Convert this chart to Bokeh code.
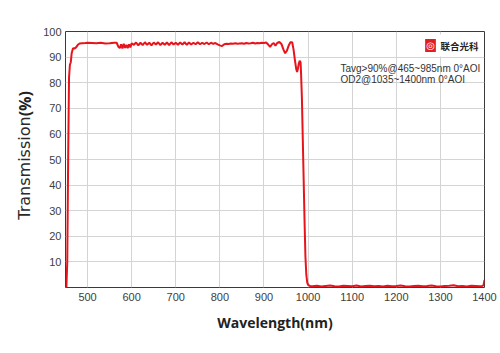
import math
from bokeh.plotting import figure
from bokeh.layouts import row
from bokeh.models import FixedTicker, Label, Range1d
from bokeh.core.properties import value
from bokeh.embed import file_html
from bokeh.resources import INLINE

# ---- data ----
wavelength = [
    450, 452, 454, 456, 458, 460, 462, 464, 467, 470, 474, 478, 482, 488, 495,
    500, 510, 520, 530, 540, 550, 560, 566, 570, 573, 576, 579, 582, 585, 588,
    591, 594, 597, 600, 605, 610, 615, 620, 625, 630, 635, 640, 645, 650, 655,
    660, 665, 670, 675, 680, 685, 690, 695, 700, 705, 710, 715, 720, 725, 730,
    735, 740, 745, 750, 755, 760, 765, 770, 775, 780, 785, 790, 795, 800, 805,
    810, 815, 820, 825, 830, 835, 840, 845, 850, 855, 860, 865, 870, 875, 880,
    885, 890, 895, 900, 905, 910, 914, 918, 922, 926, 930, 935, 940, 944, 948,
    952, 956, 960, 964, 967, 970, 973, 975, 977, 979, 981, 983, 984, 986, 988,
    990, 992, 994, 996, 998, 1000, 1005, 1010, 1020, 1030, 1040, 1050, 1060,
    1070, 1080, 1090, 1100, 1110, 1120, 1130, 1140, 1150, 1160, 1170, 1180,
    1190, 1200, 1210, 1220, 1230, 1240, 1250, 1260, 1270, 1280, 1290, 1300,
    1310, 1320, 1330, 1340, 1350, 1360, 1370, 1380, 1390, 1395, 1398, 1400,
]
transmission = [
    0.0, 0.0, 10.0, 50.0, 82.0, 87.0, 88.0, 91.5, 93.5, 93.3, 93.8, 94.8, 95.3, 95.4, 95.5,
    95.6, 95.5, 95.4, 95.6, 95.3, 95.4, 95.6, 95.6, 94.0, 93.5, 95.0, 93.4, 95.2, 93.6, 94.8,
    93.5, 95.0, 93.8, 95.4, 94.8, 95.7, 94.6, 95.6, 94.7, 95.8, 94.8, 95.6, 94.6, 95.7, 94.9,
    95.8, 94.7, 95.6, 94.8, 95.7, 94.7, 95.8, 94.9, 95.6, 94.8, 95.7, 94.9, 95.8, 94.8, 95.7,
    94.9, 95.6, 95.0, 95.8, 95.0, 95.6, 95.1, 95.7, 95.0, 95.6, 95.2, 95.5, 95.0, 94.6, 94.3,
    95.0, 95.2, 95.1, 95.3, 95.2, 95.4, 95.2, 95.3, 95.4, 95.2, 95.5, 95.3, 95.4, 95.6, 95.3,
    95.5, 95.4, 95.6, 95.5, 95.7, 94.8, 94.0, 95.0, 95.5, 94.5, 95.5, 95.9, 95.0, 93.0, 91.5,
    92.5, 94.5, 95.8, 95.8, 93.0, 89.0, 85.5, 84.2, 85.5, 87.5, 88.5, 88.0, 84.0, 74.0, 58.0,
    42.0, 26.0, 12.0, 5.0, 2.0, 1.0, 0.5, 0.5, 0.7, 0.4, 0.6, 0.8, 0.5,
    0.4, 0.7, 0.6, 0.5, 0.8, 0.4, 0.6, 0.7, 0.5, 0.6, 0.4, 0.7, 0.5,
    0.6, 0.8, 0.5, 0.4, 0.6, 0.7, 0.5, 0.6, 0.8, 0.5, 0.4, 0.6,
    0.7, 0.9, 0.5, 0.6, 0.4, 0.7, 0.6, 0.5, 0.6, 1.0, 3.0, 6.0,
]
x_ticks = [500, 600, 700, 800, 900, 1000, 1100, 1200, 1300, 1400]
y_ticks = [10, 20, 30, 40, 50, 60, 70, 80, 90, 100]
y_label_parts = ["Transmission", "(%)"]
note_lines = ["Tavg>90%@465~985nm 0°AOI", "OD2@1035~1400nm 0°AOI"]
brand = "联合光科"

H = 353
LW = 40  # width of the y-label strip

# ---- y-axis title strip (mixed font weight) ----
lf = figure(width=LW, height=H, output_backend="svg", toolbar_location=None,
            x_range=Range1d(0, LW), y_range=Range1d(0, H),
            min_border=0, min_border_left=0, min_border_right=0,
            min_border_top=0, min_border_bottom=0)
lf.axis.visible = False
lf.grid.visible = False
lf.outline_line_color = None
lf.background_fill_color = "white"
lf.border_fill_color = "white"
lf.text(x=[24], y=[H - 117], text=[y_label_parts[0]], angle=math.pi / 2,
        text_align="right", text_baseline="middle",
        text_font=value("DejaVu Sans"), text_font_size="16px", text_color="#2a2a2a")
lf.text(x=[24], y=[H - 117], text=[y_label_parts[1]], angle=math.pi / 2,
        text_align="left", text_baseline="middle",
        text_font=value("Open Sans"), text_font_style="bold", text_font_size="16px",
        text_color="#222222")

# ---- main chart ----
p = figure(
    width=500 - LW, height=H,
    output_backend="svg", toolbar_location=None,
    x_range=Range1d(450, 1400), y_range=Range1d(0, 100),
    min_border_left=64 - LW, min_border_right=16, min_border_top=31, min_border_bottom=66,
)
p.background_fill_color = "white"
p.border_fill_color = "white"
p.outline_line_color = "#3a3a3a"
p.outline_line_width = 1

p.xaxis.ticker = FixedTicker(ticks=x_ticks)
p.yaxis.ticker = FixedTicker(ticks=y_ticks)
for ax in (p.xaxis, p.yaxis):
    ax.axis_line_color = None
    ax.major_tick_line_color = None
    ax.minor_tick_line_color = None
    ax.major_tick_out = 0
    ax.major_tick_in = 0
    ax.major_label_text_font = "Liberation Sans"
    ax.major_label_text_font_size = "11px"
    ax.major_label_text_color = "#404040"
p.xaxis.major_label_standoff = 5
p.yaxis.major_label_standoff = 4

p.xaxis.axis_label = "Wavelength(nm)"
p.xaxis.axis_label_text_font = "Open Sans"
p.xaxis.axis_label_text_font_style = "bold"
p.xaxis.axis_label_text_font_size = "14px"
p.xaxis.axis_label_text_color = "#222222"
p.xaxis.axis_label_standoff = 9

p.xgrid.grid_line_color = "#d4d4d4"
p.ygrid.grid_line_color = "#d4d4d4"

p.line(wavelength, transmission, line_color="#e8141c", line_width=2)

# notes (screen units relative to the plot frame)
p.add_layout(Label(x=275, y=219, x_units="screen", y_units="screen", text=note_lines[0],
                   text_align="left", text_baseline="middle", text_font="Liberation Sans",
                   text_font_size="10px", text_color="#333333"))
p.add_layout(Label(x=275, y=208, x_units="screen", y_units="screen", text=note_lines[1],
                   text_align="left", text_baseline="middle", text_font="Liberation Sans",
                   text_font_size="10px", text_color="#333333"))

# logo
p.add_layout(Label(x=371, y=242, x_units="screen", y_units="screen", text=brand,
                   text_align="left", text_baseline="middle", text_font="Noto Sans CJK SC",
                   text_font_style="bold", text_font_size="9.5px", text_color="#222222",
                   background_fill_color="white", padding=4))
p.add_layout(Label(x=365, y=242, x_units="screen", y_units="screen", text="◎",
                   text_align="center", text_baseline="middle", text_font="DejaVu Sans",
                   text_font_size="10px", text_color="white",
                   background_fill_color="#e02020", padding=1))

layout = row(lf, p, spacing=0)
open("out.html", "w").write(file_html(layout, INLINE))
